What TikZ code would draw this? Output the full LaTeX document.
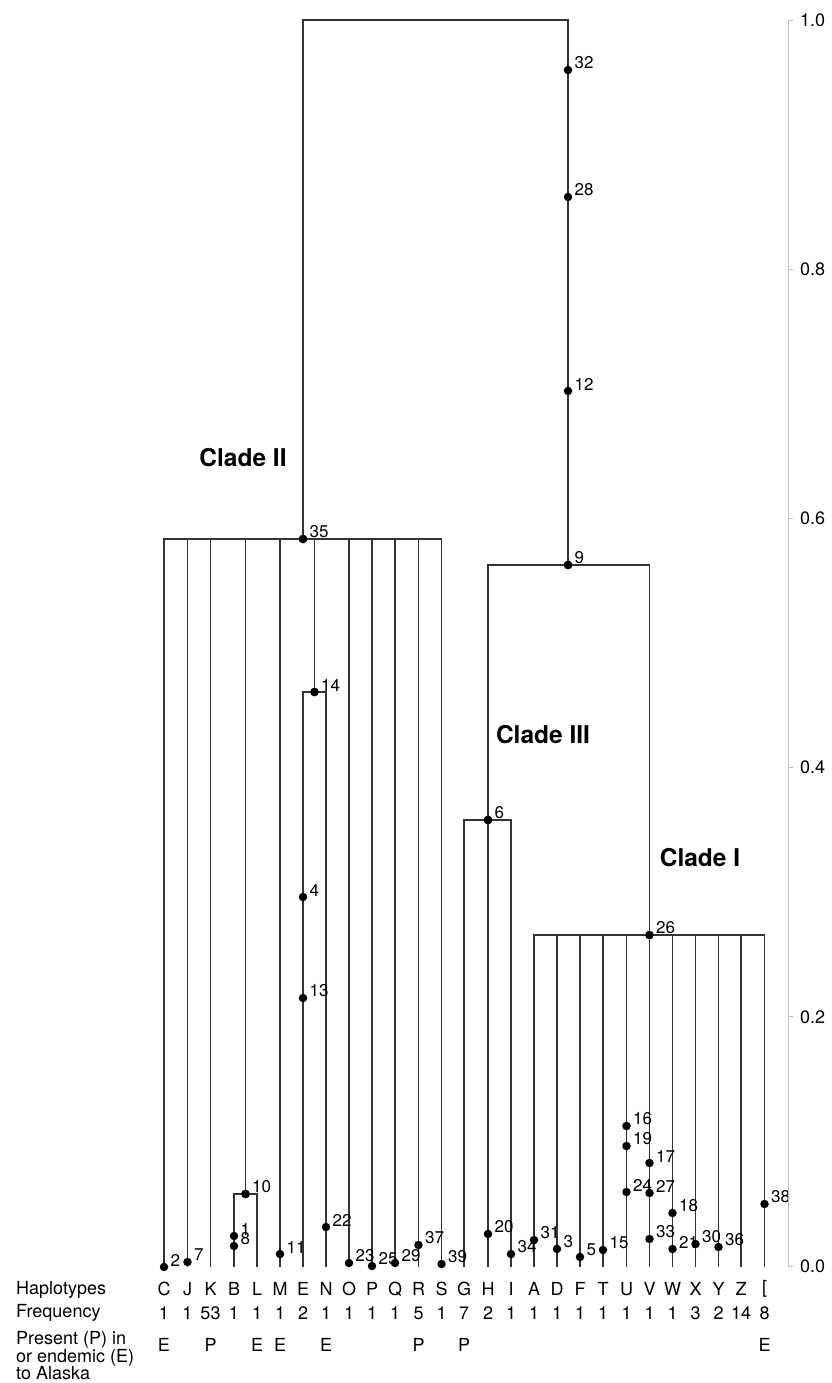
\documentclass[tikz,border=0pt]{standalone}
\usepackage{fontspec}
\setmainfont{TeX Gyre Heros}
\begin{document}
\begin{tikzpicture}[x=1pt,y=-1pt,
  branch/.style={draw=black!80, line width=1.5pt},
  dot/.style={circle, fill=black, inner sep=0pt, minimum size=8.5pt},
  nlab/.style={anchor=west, inner sep=0pt, font=\fontsize{17}{17}\selectfont},
  clade/.style={inner sep=0pt, font=\bfseries\fontsize{24.5}{25}\selectfont},
  txt/.style={inner sep=0pt, font=\fontsize{18}{18}\selectfont},
  axisline/.style={draw=black!25, line width=0.9pt}]
\useasboundingbox (0,0) rectangle (831,1383);

% dot with its number label to the upper right
\newcommand\hdot[4]{\node[dot] (#1) at (#2,#3) {};
  \node[nlab] (#1l) at ([shift={(2,-7)}]#1.east) {#4};}

% leaf feet on the baseline
\foreach \n/\x in {C/164,J/187.5,K/210.5,B/234,L/257,M/280,E/303,N/326,O/349,P/372,
  Q/395,R/418.5,S/441.5,G/464,H/488,I/511,A/534,D/557,F/580,T/603,U/626.5,V/649.5,
  W/672.5,X/695.5,Y/718.5,Z/741,LB/764.5}
  \coordinate (b\n) at (\x,1267);

% root bar
\coordinate (rt) at (436,20);

% internal nodes
\node[dot] (n35) at (303,539) {};
\node[dot] (n9) at (568,565) {};
\node[dot] (n10) at (245.5,1194) {};
\node[dot] (n14) at (314.5,692) {};
\node[dot] (n6) at (488,820) {};
\node[dot] (n26) at (649.5,935) {};

% branches
\draw[branch] (rt) -| (n35.center);
\draw[branch] (rt) -| (n9.center);
\foreach \c in {bC,bJ,bK,n10.center,bM,n14.center,bO,bP,bQ,bR,bS}
  \draw[branch] (n35.center) -| (\c);
\draw[branch] (n10.center) -| (bB);
\draw[branch] (n10.center) -| (bL);
\draw[branch] (n14.center) -| (bE);
\draw[branch] (n14.center) -| (bN);
\draw[branch] (n9.center) -| (n6.center);
\draw[branch] (n9.center) -| (n26.center);
\draw[branch] (n6.center) -| (bG);
\draw[branch] (n6.center) -- (bH);
\draw[branch] (n6.center) -| (bI);
\foreach \c in {bA,bD,bF,bT,bU,bW,bX,bY,bZ,bLB}
  \draw[branch] (n26.center) -| (\c);
\draw[branch] (n26.center) -- (bV);

% redraw internal dots on top, with labels
\node[dot] at (n35) {}; \node[nlab] (n35l) at ([shift={(2,-7)}]n35.east) {35};
\node[dot] at (n9) {};  \node[nlab] (n9l) at ([shift={(2,-7)}]n9.east) {9};
\node[dot] at (n10) {}; \node[nlab] (n10l) at ([shift={(2,-7)}]n10.east) {10};
\node[dot] at (n14) {}; \node[nlab] (n14l) at ([shift={(2,-7)}]n14.east) {14};
\node[dot] at (n6) {};  \node[nlab] (n6l) at ([shift={(2,-7)}]n6.east) {6};
\node[dot] at (n26) {}; \node[nlab] (n26l) at ([shift={(2,-7)}]n26.east) {26};

% mutation dots along branches
\hdot{d32}{568}{70}{32}
\hdot{d28}{568}{197}{28}
\hdot{d12}{568}{391}{12}
\hdot{d1}{234}{1236}{1}
\hdot{d8}{234}{1246}{8}
\hdot{d2}{164}{1267}{2}
\hdot{d7}{187.5}{1262}{7}
\hdot{d11}{280}{1254}{11}
\hdot{d4}{303}{897}{4}
\hdot{d13}{303}{998}{13}
\hdot{d22}{326}{1227}{22}
\hdot{d23}{349}{1263}{23}
\hdot{d25}{372}{1266}{25}
\hdot{d29}{395}{1263}{29}
\hdot{d37}{418.5}{1245}{37}
\hdot{d39}{441.5}{1264}{39}
\hdot{d20}{488}{1234}{20}
\hdot{d34}{511}{1254}{34}
\hdot{d31}{534}{1240}{31}
\hdot{d3}{557}{1249}{3}
\hdot{d5}{580}{1257}{5}
\hdot{d15}{603}{1250}{15}
\hdot{d16}{626.5}{1126}{16}
\hdot{d19}{626.5}{1146}{19}
\hdot{d24}{626.5}{1192}{24}
\hdot{d17}{649.5}{1163}{17}
\hdot{d27}{649.5}{1193}{27}
\hdot{d33}{649.5}{1239}{33}
\hdot{d18}{672.5}{1213}{18}
\hdot{d21}{672.5}{1249}{21}
\hdot{d30}{695.5}{1244}{30}
\hdot{d36}{718.5}{1247}{36}
\hdot{d38}{764.5}{1204}{38}

% clade names
\node[clade] (cl2) at (243,458) {Clade II};
\node[clade] (cl3) at (543,735) {Clade III};
\node[clade] (cl1) at (700,858) {Clade I};

% scale axis
\coordinate (ax0) at (788,1266);
\coordinate (ax1) at (788,20);
\draw[axisline] (ax0) -- (ax1);
\foreach \i/\t in {0/0.0,1/0.2,2/0.4,3/0.6,4/0.8,5/1.0}{
  \coordinate (tk\i) at (788,{1266-249.2*\i});
  \draw[axisline] (tk\i) -- ++(5,0);
  \node[txt, anchor=west] (tl\i) at ([xshift=12pt]tk\i) {\t};
}

% table under the leaves
\node[txt, anchor=west] (rowh) at (16,1290) {Haplotypes};
\node[txt, anchor=west] (rowf) at (16,1313) {Frequency};
\node[txt, anchor=west, align=left, font=\fontsize{18}{17.5}\selectfont] (rowp) at (16,1356)
  {Present (P) in\\or endemic (E)\\to Alaska};

\foreach \n/\h/\f in {C/C/1,J/J/1,K/K/53,B/B/1,L/L/1,M/M/1,E/E/2,N/N/1,O/O/1,P/P/1,
  Q/Q/1,R/R/5,S/S/1,G/G/7,H/H/2,I/I/1,A/A/1,D/D/1,F/F/1,T/T/1,U/U/1,V/V/1,
  W/W/1,X/X/3,Y/Y/2,Z/Z/14}{
  \node[txt] (h\n) at ([yshift=-22pt]b\n) {\h};
  \node[txt] (f\n) at ([yshift=-46pt]b\n) {\f};
}
\node[txt] (hLB) at ([yshift=-22pt]bLB) {[};
\node[txt] (fLB) at ([yshift=-46pt]bLB) {8};

\foreach \n/\p in {C/E,K/P,L/E,M/E,N/E,R/P,G/P,LB/E}
  \node[txt] (p\n) at ([yshift=-78pt]b\n) {\p};
\end{tikzpicture}
\end{document}
